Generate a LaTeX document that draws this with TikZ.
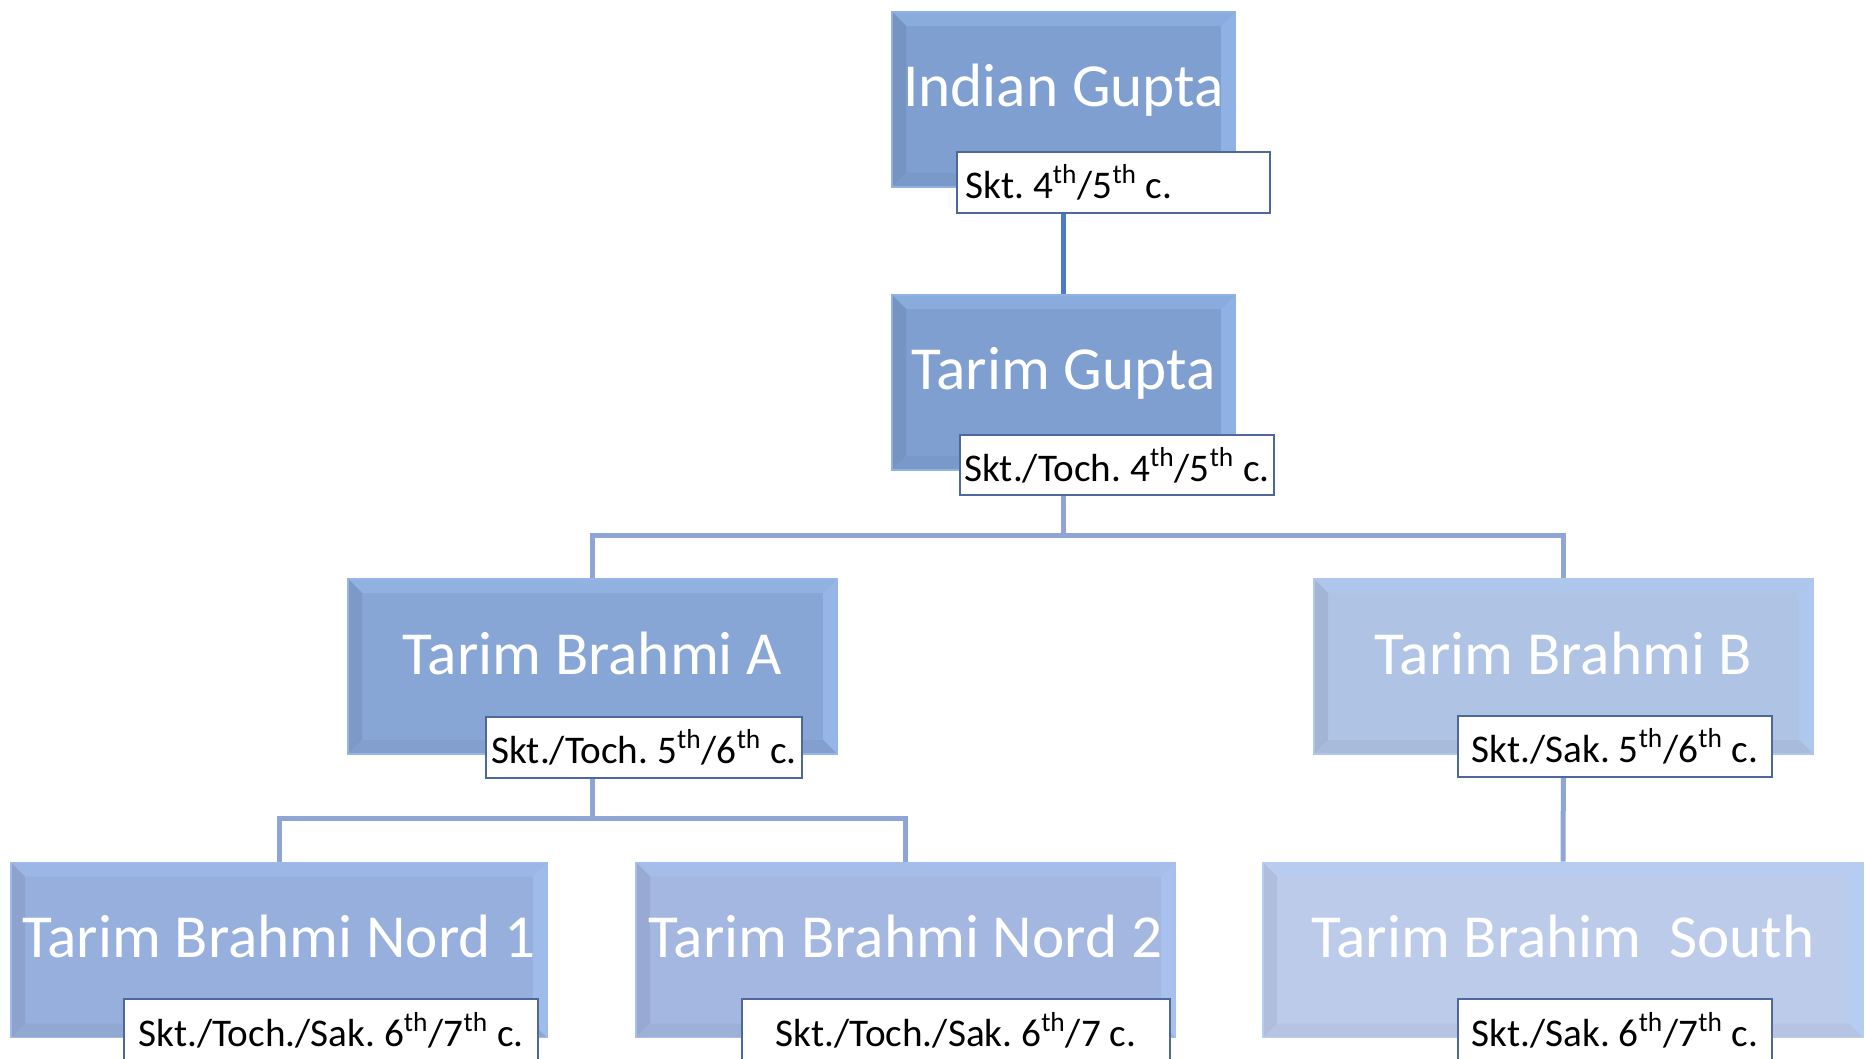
\documentclass[tikz,border=0pt]{standalone}
\usepackage{fontspec}
\setmainfont{Carlito}
\usetikzlibrary{backgrounds}
\frenchspacing
\definecolor{cA}{RGB}{126,159,208}
\definecolor{cB}{RGB}{135,166,213}
\definecolor{cN1}{RGB}{151,175,220}
\definecolor{cN2}{RGB}{164,183,225}
\definecolor{cBB}{RGB}{175,195,228}
\definecolor{cS}{RGB}{189,203,235}
\definecolor{edgehi}{RGB}{170,205,255}
\definecolor{labline}{RGB}{78,104,158}
\definecolor{linkdark}{RGB}{74,123,196}
\definecolor{linklight}{RGB}{142,165,214}
\tikzset{
  bx/.style={rectangle, inner sep=0pt, fill=#1, draw=#1!60!edgehi, line width=0.8pt,
    path picture={
      \coordinate (NW) at (path picture bounding box.north west);
      \coordinate (NE) at (path picture bounding box.north east);
      \coordinate (SW) at (path picture bounding box.south west);
      \coordinate (SE) at (path picture bounding box.south east);
      \fill[#1!72!edgehi] (NW) -- (NE) -- ([shift={(-7pt,-7pt)}]NE) -- ([shift={(7pt,-7pt)}]NW) -- cycle;
      \fill[#1!93!black] (NW) -- ([shift={(7pt,-7pt)}]NW) -- ([shift={(7pt,7pt)}]SW) -- (SW) -- cycle;
      \fill[#1!60!edgehi] (NE) -- (SE) -- ([shift={(-7pt,7pt)}]SE) -- ([shift={(-7pt,-7pt)}]NE) -- cycle;
      \fill[#1!96!black] (SW) -- (SE) -- ([shift={(-7pt,7pt)}]SE) -- ([shift={(7pt,7pt)}]SW) -- cycle;
    }},
  title/.style={text=white, font=\fontsize{30.6}{36}\selectfont, inner sep=0pt,
    text height=22pt, text depth=7pt, yshift=3.75pt},
  lab/.style={rectangle, draw=labline, line width=1pt, fill=white, inner sep=0pt,
    font=\fontsize{19.6}{23}\selectfont, text=black, align=center},
  link/.style={draw=linklight, line width=2.5pt},
  linkd/.style={draw=linkdark, line width=2.6pt},
}
\begin{document}
\begin{tikzpicture}[x=0.5pt, y=-0.5pt]
\useasboundingbox (0,0) rectangle (1865,1059);
\clip (0,0) rectangle (1865,1059);

% boxes
\node[bx=cA, minimum width=171.5pt, minimum height=87.5pt,
      label={[title]center:Indian Gupta}] (ig) at (1063.5,99.5) {};
\node[bx=cA, minimum width=171.5pt, minimum height=87.5pt,
      label={[title]center:Tarim Gupta}] (tg) at (1063.5,382.5) {};
\node[bx=cB, minimum width=244.5pt, minimum height=87.5pt,
      label={[title]center:Tarim Brahmi A}] (ta) at (592.5,666.5) {};
\node[bx=cBB, minimum width=249.5pt, minimum height=87.5pt,
      label={[title]center:Tarim Brahmi B}] (tb) at (1563.5,666.5) {};
\node[bx=cN1, minimum width=268pt, minimum height=87.5pt,
      label={[title]center:Tarim Brahmi Nord 1}] (n1) at (279,950) {};
\node[bx=cN2, minimum width=269.5pt, minimum height=87.5pt,
      label={[title]center:Tarim Brahmi Nord 2}] (n2) at (905.5,950) {};
\node[bx=cS, minimum width=300pt, minimum height=87.5pt,
      label={[title]center:Tarim Brahim\ \ South}] (so) at (1563,950) {};

% date labels
\node[lab, minimum width=156.5pt, minimum height=30.5pt] (igl) at (1113.5,182.5)
  {\makebox[148pt][l]{Skt. 4\textsuperscript{th}/5\textsuperscript{th} c.}};
\node[lab, minimum width=157pt, minimum height=30pt] (tgl) at (1117,465)
  {Skt./Toch. 4\textsuperscript{th}/5\textsuperscript{th} c.};
\node[lab, minimum width=158pt, minimum height=30.5pt] (tal) at (644,747.5)
  {Skt./Toch. 5\textsuperscript{th}/6\textsuperscript{th} c.};
\node[lab, minimum width=157pt, minimum height=30.5pt] (tbl) at (1615,746.5)
  {Skt./Sak. 5\textsuperscript{th}/6\textsuperscript{th} c.};
\node[lab, minimum width=207pt, minimum height=31pt] (n1l) at (331,1030)
  {Skt./Toch./Sak. 6\textsuperscript{th}/7\textsuperscript{th} c.};
\node[lab, minimum width=214pt, minimum height=31pt] (n2l) at (956,1030)
  {Skt./Toch./Sak. 6\textsuperscript{th}/7 c.};
\node[lab, minimum width=157pt, minimum height=31pt] (sol) at (1615,1030)
  {Skt./Sak. 6\textsuperscript{th}/7\textsuperscript{th} c.};

\begin{scope}[on background layer]
  \fill[white] (0,0) rectangle (1865,1059);
  \draw[linkd] (ig.south) -- (tg.north);
  \draw[link] (tg.south) -- (tg.south |- 0,535) -| (ta.north);
  \draw[link] (tg.south |- 0,535) -| (tb.north);
  \draw[link] (ta.south) -- (ta.south |- 0,818) -| (n1.north);
  \draw[link] (ta.south |- 0,818) -| (n2.north);
  \draw[link] (tb.south) -- (so.north);
\end{scope}
\end{tikzpicture}
\end{document}
